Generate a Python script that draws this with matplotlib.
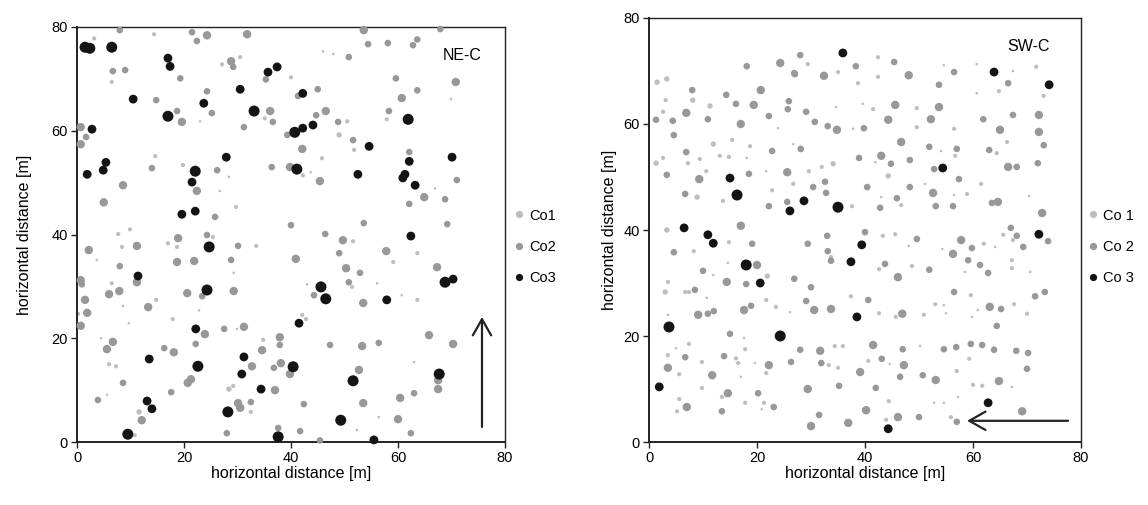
import matplotlib
matplotlib.use("Agg")
import matplotlib.pyplot as plt
from matplotlib.lines import Line2D

plt.rcParams['font.family'] = ['Liberation Sans', 'DejaVu Sans']

# (x [m], y [m], size class)
ne_co1 = [(3.2,77.8,2),(14.4,78.6,2),(6.5,69.4,2),(23.0,61.8,1),(14.6,55.1,2),(19.8,53.4,2),(9.9,41.0,2),(7.7,40.1,2),
          (46.0,75.3,1),(47.9,74.8,1),(27.1,72.8,2),(30.5,74.2,2),(40.0,70.3,2),(35.1,62.4,2),(50.5,61.8,2),(49.0,59.2,3),
          (51.8,56.3,2),(45.8,54.7,2),(42.2,51.4,2),(43.7,52.0,1),(28.4,51.1,1),(26.7,48.4,1),(29.7,45.3,2),(53.5,42.0,2),
          (69.9,66.1,1),(57.9,62.2,2),(66.9,48.9,1),(3.7,35.1,1),(8.4,37.6,2),(17.0,38.3,2),(18.7,37.6,2),(25.4,39.5,2),
          (6.5,30.6,2),(0.2,24.7,2),(8.6,26.2,1),(9.7,22.9,1),(14.8,27.4,2),(22.8,25.4,1),(17.9,23.7,2),(4.5,20.0,1),
          (6.0,15.0,2),(7.3,14.6,2),(5.6,9.1,1),(11.6,5.8,3),(10.8,1.3,2),(51.6,38.7,2),(33.5,37.8,2),(51.4,29.9,2),
          (29.3,32.6,1),(43.0,30.4,1),(29.9,21.8,1),(42.1,24.5,2),(42.8,23.7,2),(34.8,19.7,2),(28.4,10.2,3),(29.2,10.8,2),
          (32.5,5.8,2),(52.3,2.3,1),(63.6,36.4,2),(59.1,34.7,2),(56.1,30.6,1),(60.7,28.3,1),(63.6,27.4,2),(63.0,15.4,1),
          (56.4,4.8,1)]
ne_co2 = [(8.0,79.4,2),(21.5,79.0,2),(24.3,78.4,3),(22.4,77.3,2),(6.7,71.5,2),(9.0,71.7,2),(19.3,70.1,2),(24.3,67.6,2),
          (14.8,65.9,2),(25.2,63.4,2),(18.7,63.8,2),(19.6,61.7,3),(0.7,60.7,3),(1.7,58.8,2),(0.7,57.4,3),(14.0,52.8,2),
          (22.4,48.4,3),(26.2,52.4,2),(8.6,49.5,3),(5.0,46.2,3),(25.8,43.4,2),(31.8,78.6,3),(53.6,79.4,3),(50.8,74.2,2),
          (28.8,73.4,3),(29.2,72.3,2),(35.3,69.9,2),(41.3,66.7,2),(45.0,68.0,2),(36.1,63.8,3),(36.6,61.7,2),(31.2,60.7,2),
          (46.5,63.8,3),(44.7,63.0,2),(39.3,59.2,2),(48.8,61.7,2),(51.6,58.2,2),(42.1,56.5,3),(36.4,53.0,2),(39.8,53.0,3),
          (45.4,50.3,3),(40.0,41.8,2),(46.4,40.1,2),(67.9,79.6,2),(54.4,76.7,2),(58.1,76.9,2),(62.8,76.5,2),(63.6,77.6,2),
          (59.6,70.1,2),(70.8,69.4,3),(63.6,67.8,2),(60.7,66.3,3),(58.3,63.8,2),(62.1,55.9,2),(71.0,50.5,2),(64.9,47.2,3),
          (68.8,46.8,2),(62.1,45.9,2),(53.6,42.2,2),(69.2,42.0,2),
          (2.2,37.0,3),(11.2,37.8,3),(8.0,33.9,2),(18.9,39.3,3),(24.3,39.9,2),(18.7,34.7,3),(21.9,34.9,3),(11.2,30.8,3),
          (0.7,31.2,3),(0.9,30.4,2),(6.0,28.5,3),(7.9,29.1,3),(1.5,27.4,3),(1.9,24.9,3),(0.7,22.4,3),(13.3,26.0,3),
          (20.6,28.7,3),(23.4,28.1,2),(23.9,20.8,3),(22.2,18.9,2),(6.7,19.3,3),(5.6,17.9,3),(16.3,18.1,2),(18.1,17.3,3),
          (8.6,11.4,2),(20.7,11.4,3),(21.3,12.1,3),(17.6,9.6,2),(3.9,8.1,2),(12.1,4.2,3),
          (49.7,38.9,3),(30.1,37.8,2),(28.8,35.1,2),(40.9,35.3,3),(49.0,36.4,2),(50.3,33.5,3),(52.9,32.6,2),(50.8,30.8,2),
          (29.3,29.1,3),(44.3,28.3,2),(53.5,26.8,3),(27.5,21.8,2),(31.2,22.2,3),(37.9,20.2,3),(37.9,18.7,2),(34.6,17.7,3),
          (47.3,18.7,2),(53.3,18.5,3),(32.7,14.6,3),(38.1,15.2,3),(36.8,14.3,2),(39.8,13.1,3),(52.7,13.9,3),(37.0,10.0,3),
          (30.1,7.5,3),(30.5,6.6,3),(32.5,7.7,2),(42.4,7.3,2),(53.5,7.5,3),(28.0,1.7,2),(37.6,2.7,2),(41.7,2.1,2),
          (45.4,0.3,2),(57.8,36.8,3),(67.3,33.7,3),(65.8,20.6,3),(70.3,18.9,3),(56.4,19.1,2),(67.5,11.9,3),(67.5,10.2,3),
          (63.0,9.4,2),(60.4,8.5,3),(60.0,4.4,3),(62.4,1.7,2)]
ne_co3 = [(1.5,76.1,3),(2.4,75.9,3),(6.5,76.1,3),(17.0,74.0,2),(17.4,72.4,2),(10.5,66.1,2),(23.7,65.3,2),(17.0,62.8,3),
          (2.8,60.3,2),(5.4,53.9,2),(4.9,52.4,2),(1.9,51.6,2),(22.1,52.2,3),(21.5,50.1,2),(19.6,43.9,2),(22.1,44.5,2),
          (35.7,71.3,2),(37.4,72.3,2),(30.5,68.0,2),(42.2,67.2,2),(33.1,63.8,3),(40.7,59.7,3),(42.2,60.5,2),(44.1,61.1,2),
          (27.9,54.9,2),(41.1,52.6,3),(52.5,51.6,2),(61.9,62.2,3),(54.6,57.0,2),(62.1,54.1,2),(70.1,54.9,2),(61.3,51.6,2),
          (60.9,50.9,2),(63.2,49.5,2),(62.4,39.7,2),(24.7,37.6,3),(11.4,32.0,2),(24.3,29.3,3),(22.2,21.8,2),(13.5,16.0,2),
          (22.6,14.6,3),(13.1,7.9,2),(14.0,6.4,2),(9.5,1.5,3),(45.6,29.9,3),(46.5,27.6,3),(41.5,22.9,2),(31.2,16.4,2),
          (30.8,13.1,2),(40.4,14.5,3),(51.6,11.8,3),(34.4,10.2,2),(28.2,5.8,3),(49.3,4.2,3),(37.6,1.0,3),(68.8,30.8,3),
          (70.3,31.4,2),(57.9,27.4,2),(67.7,13.1,3),(55.5,0.4,2)]

sw_co1 = [(1.5,67.9,3),(3.3,68.5,3),(3.1,64.5,2),(8.1,64.5,3),(11.3,63.4,3),(2.6,62.3,2),(23.9,59.2,1),(11.9,56.2,3),
          (15.4,57.0,2),(18.7,55.8,2),(26.7,56.2,1),(2.6,53.6,2),(1.3,52.6,3),(7.2,52.6,2),(9.4,53.4,2),(13.1,54.0,2),
          (14.8,53.8,2),(18.1,53.6,1),(10.6,51.1,2),(21.7,51.1,1),(26.7,48.7,2),(22.8,47.5,2),(8.9,46.2,3),(13.7,45.5,2),
          (3.3,40.0,3),(14.8,37.7,2),(8.3,36.0,2),(14.6,33.8,1),(11.9,31.5,1),(21.9,31.3,3),(3.5,30.2,2),(3.0,28.3,3),
          (6.7,28.3,2),(7.4,28.3,2),(10.7,27.2,1),(21.7,26.8,2),(23.5,25.5,2),(26.1,24.5,1),(3.5,24.0,1),(17.6,19.6,1),
          (5.0,17.7,1),(7.4,18.5,2),(17.8,17.5,2),(3.5,16.4,2),(16.1,15.8,2),(16.5,14.9,2),(9.8,15.1,2),(19.6,14.9,1),
          (5.6,12.8,2),(17.0,12.3,1),(21.7,13.0,2),(9.8,10.2,2),(13.5,8.5,2),(5.6,8.1,2),(5.2,5.8,2),(17.8,7.4,2),
          (21.3,7.4,2),(20.9,6.2,1),
          (29.4,71.3,2),(42.4,72.6,2),(35.0,69.8,2),(38.7,67.7,2),(42.4,68.9,2),(34.6,63.2,1),(39.6,63.8,1),(41.5,62.8,2),
          (49.6,63.0,2),(37.8,59.1,1),(49.6,59.4,2),(41.9,52.8,1),(34.1,52.5,3),(32.0,51.9,2),(29.6,51.1,2),(44.3,50.2,3),
          (51.1,48.7,1),(37.6,44.5,2),(43.0,46.2,1),(46.7,44.7,2),(43.3,38.9,2),(45.6,39.2,2),
          (54.6,71.1,1),(60.7,71.3,1),(67.4,70.0,1),(71.7,70.8,2),(64.8,66.2,2),(60.7,65.8,1),(73.1,65.3,2),(56.5,59.1,2),
          (66.3,56.6,2),(54.1,54.9,1),(56.7,54.0,2),(64.4,54.5,2),(61.5,48.7,2),(56.5,46.6,1),(58.9,46.8,2),(70.4,46.4,1),
          (65.6,39.1,2),(67.4,38.1,2),(62.0,37.4,2),
          (33.7,34.9,2),(48.1,37.0,1),(42.6,32.6,2),(48.7,33.2,2),(37.4,27.5,2),(42.6,24.3,2),(45.7,23.6,2),(50.9,24.0,2),
          (53.0,26.0,2),(34.4,18.1,2),(35.9,18.1,2),(50.2,18.1,1),(33.3,14.5,2),(35.0,14.0,2),(40.6,15.3,2),(44.6,14.7,1),
          (44.4,7.7,2),(52.8,7.4,1),(43.9,4.2,2),
          (54.3,36.4,1),(64.1,36.8,1),(67.2,34.3,2),(67.2,32.8,2),(58.5,32.1,1),(70.6,32.1,1),(59.6,27.7,2),(54.6,25.8,1),
          (55.0,24.3,1),(67.6,26.0,2),(60.9,24.9,1),(59.8,23.6,1),(70.0,24.2,2),(59.3,15.7,2),(57.0,13.4,2),(60.0,10.8,2),
          (61.7,10.6,2),(67.2,10.4,1),(57.2,8.5,1),(54.6,7.4,1),(55.9,4.7,2)]
sw_co2 = [(18.1,70.9,2),(24.3,71.5,3),(26.9,69.6,2),(8.0,66.4,2),(14.3,65.5,2),(20.7,66.4,3),(16.1,63.8,2),(19.4,63.6,3),
          (25.9,64.3,2),(25.7,62.8,2),(6.9,62.1,3),(1.3,60.8,2),(4.4,60.6,2),(10.9,60.9,2),(17.0,60.0,3),(22.2,61.5,2),
          (4.6,57.9,2),(6.9,54.7,2),(22.8,54.9,2),(3.3,50.4,2),(9.3,49.6,3),(18.5,50.6,2),(25.6,50.9,3),(6.7,46.8,2),
          (22.2,44.5,2),(25.6,45.3,2),(17.0,40.8,3),(19.1,37.4,2),
          (4.6,35.8,2),(20.0,33.4,3),(10.0,32.3,2),(26.9,30.8,2),(14.4,30.2,3),(18.0,29.8,2),(8.5,28.7,2),(9.1,24.0,3),
          (10.9,24.2,2),(12.0,24.7,2),(17.6,24.9,3),(18.9,25.7,2),(15.0,20.4,2),(6.7,16.0,2),(13.9,16.2,2),(22.2,14.5,3),
          (26.3,15.1,2),(3.5,14.0,3),(11.7,12.6,3),(14.6,9.2,3),(20.2,9.2,2),(7.0,6.6,3),(13.5,5.8,2),(23.1,6.6,2),
          (28.0,73.0,2),(45.4,71.7,2),(38.3,70.9,2),(27.0,69.4,2),(32.4,69.1,3),(48.1,69.2,3),(53.7,67.4,2),(29.1,62.3,2),
          (45.6,63.6,3),(53.7,63.2,3),(30.7,60.4,2),(33.1,59.6,2),(34.8,58.9,3),(39.8,59.2,2),(44.3,60.8,3),(52.2,60.9,3),
          (28.1,55.3,2),(46.7,56.6,3),(51.9,55.7,2),(38.9,53.6,2),(43.0,54.0,3),(44.8,52.5,2),(48.3,53.2,2),(52.8,51.5,2),
          (30.4,48.1,2),(32.6,49.1,2),(32.8,47.0,2),(40.4,48.1,2),(48.3,48.1,2),(52.6,47.0,3),(45.9,46.0,2),(42.8,44.2,2),
          (53.1,44.5,2),(33.0,38.9,2),(40.0,39.6,2),(49.6,38.3,2),(29.4,37.4,2),
          (56.5,69.8,2),(66.5,67.7,2),(67.4,61.7,2),(72.2,61.7,3),(61.9,60.9,2),(65.0,58.9,3),(72.2,58.5,3),(73.1,56.0,2),
          (57.0,55.3,2),(63.0,55.1,2),(66.5,51.9,3),(68.1,51.9,2),(72.0,52.6,2),(57.4,49.6,2),(56.3,44.5,2),(63.5,45.1,2),
          (64.6,45.3,3),(72.8,43.2,3),(73.9,37.9,2),(67.0,40.4,2),(68.1,38.9,2),(57.8,38.1,3),
          (33.1,36.0,2),(33.7,34.2,2),(43.7,33.6,2),(51.9,32.5,2),(30.0,29.2,2),(46.1,31.1,3),(40.6,26.8,2),(29.1,26.6,2),
          (30.6,24.9,3),(33.7,25.1,3),(46.9,24.2,3),(28.0,17.4,2),(31.7,17.2,3),(41.5,18.3,3),(47.0,17.5,2),(31.9,14.9,2),
          (43.1,15.7,2),(47.2,14.5,3),(39.1,13.2,3),(46.5,12.3,2),(50.7,12.6,2),(53.1,11.7,3),(29.4,10.0,3),(35.2,10.6,2),
          (42.0,10.2,2),(31.5,5.1,2),(40.2,6.0,3),(36.9,3.6,3),(30.0,3.0,3),(46.1,4.7,3),(50.0,4.7,2),
          (56.3,35.5,3),(59.8,36.6,2),(69.3,36.8,2),(59.1,34.3,2),(61.3,33.4,2),(62.8,31.9,2),(56.5,28.3,2),(71.5,27.5,2),
          (73.3,28.3,2),(63.1,25.5,3),(65.2,25.1,2),(64.4,21.9,2),(54.6,17.5,2),(56.9,17.9,2),(59.6,18.5,2),(61.7,18.3,2),
          (63.9,17.4,2),(68.0,17.2,2),(70.2,16.8,2),(70.0,13.8,2),(64.8,11.5,3),(69.1,5.8,3),(57.0,3.8,2)]
sw_co3 = [(15.0,49.8,2),(16.3,46.6,3),(26.1,43.6,2),(6.5,40.4,2),(10.9,39.1,2),(11.9,37.5,2),(18.0,33.4,3),(20.6,30.0,2),
          (3.7,21.7,3),(24.3,20.0,3),(1.9,10.4,2),(35.9,73.4,2),(28.7,45.5,2),(35.0,44.3,3),(39.4,37.2,2),(54.4,51.7,2),
          (63.9,69.8,2),(74.1,67.4,2),(72.2,39.2,2),(37.4,34.0,2),(38.5,23.6,2),(44.3,2.5,2),(62.8,7.4,2)]

ne_labels = ["Co1", "Co2", "Co3"]
sw_labels = ["Co 1", "Co 2", "Co 3"]

colors = ["#bebebe", "#989898", "#141414"]
# marker diameter in pixels for each size class
diam = [{1: 2.6, 2: 4.2, 3: 5.4}, {2: 6.6, 3: 8.4}, {2: 8.8, 3: 11.0}]

W, H = 1148, 505
fig = plt.figure(figsize=(W / 100, H / 100), dpi=100)
ax1 = fig.add_axes([77 / W, 1 - 442 / H, 428 / W, 415 / H])
ax2 = fig.add_axes([649 / W, 1 - 442 / H, 432 / W, 424 / H])


def draw(ax, groups, tag, tag_xy, arrow, ypad):
    for i, pts in enumerate(groups):
        xs = [p[0] for p in pts]
        ys = [p[1] for p in pts]
        ss = [(diam[i][p[2]] * 0.72) ** 2 for p in pts]
        ax.scatter(xs, ys, s=ss, c=colors[i], edgecolors='none', zorder=2 + i, clip_on=False)
    ax.set_xlim(0, 80)
    ax.set_ylim(0, 80)
    ax.set_xticks(range(0, 81, 20))
    ax.set_yticks(range(0, 81, 20))
    ax.tick_params(direction='out', length=4, width=1, labelsize=10.5, color='#222222', pad=2.5)
    for s in ['left', 'bottom']:
        ax.spines[s].set_linewidth(1.4)
    for s in ['top', 'right']:
        ax.spines[s].set_linewidth(1.0)
    for s in ax.spines.values():
        s.set_color('#222222')
    ax.set_xlabel('horizontal distance [m]', fontsize=11.5, labelpad=1)
    ax.set_ylabel('horizontal distance [m]', fontsize=11.5, labelpad=ypad)
    ax.text(tag_xy[0], tag_xy[1], tag, fontsize=11.5, ha='center', va='center')
    ax.annotate('', xy=arrow[1], xytext=arrow[0],
                arrowprops=dict(arrowstyle='->,head_length=0.58,head_width=0.33',
                                lw=1.6, color='#222222', mutation_scale=20,
                                shrinkA=0, shrinkB=0))
    return [Line2D([], [], ls='none', marker='o', ms=5.2, mfc=colors[i], mec='none')
            for i in range(3)]


h1 = draw(ax1, [ne_co1, ne_co2, ne_co3], 'NE-C', (72.0, 74.6),
          ((75.7, 2.9), (75.7, 24.1)), 14)
h2 = draw(ax2, [sw_co1, sw_co2, sw_co3], 'SW-C', (70.2, 74.7),
          ((77.6, 4.0), (58.9, 4.0)), 5)

fig.legend(h1, ne_labels, loc='center left', bbox_to_anchor=(513 / W, 1 - 247 / H),
           frameon=False, fontsize=10.5, handlelength=0.8, handletextpad=0.3,
           borderpad=0, borderaxespad=0, labelspacing=1.2)
fig.legend(h2, sw_labels, loc='center left', bbox_to_anchor=(1087 / W, 1 - 247 / H),
           frameon=False, fontsize=10.5, handlelength=0.8, handletextpad=0.3,
           borderpad=0, borderaxespad=0, labelspacing=1.2)

fig.savefig('out.png', dpi=100)
